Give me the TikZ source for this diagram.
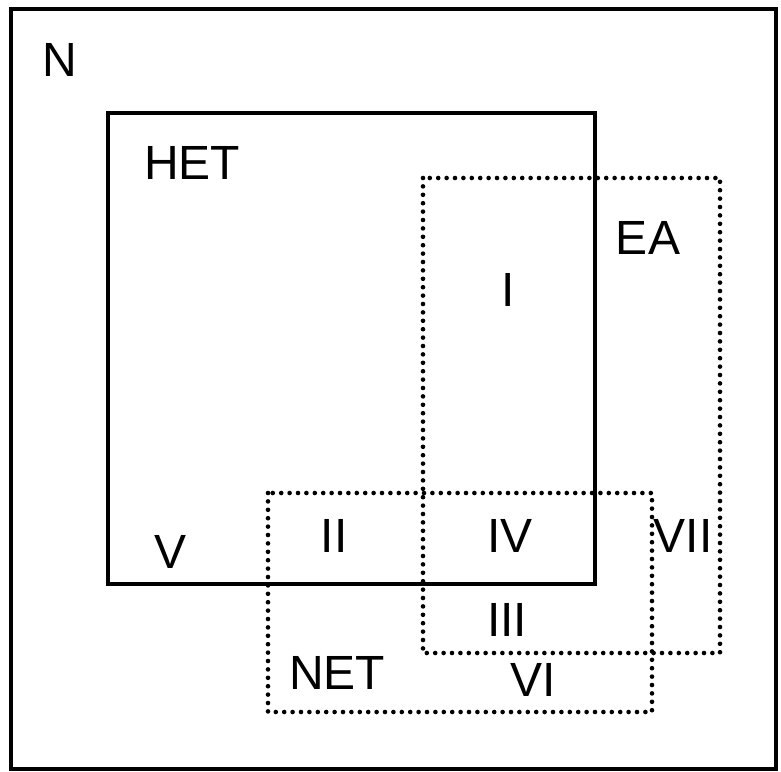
\documentclass[tikz,border=0pt]{standalone}
\usepackage{fontspec}
\setmainfont{Liberation Sans}
\usepackage{tikz}

\begin{document}
\begin{tikzpicture}[
  x=1pt, y=-1pt,
  solidset/.style={draw, line width=3.8pt},
  dotset/.style={draw, line width=4.6pt, line cap=round, dash pattern=on 0pt off 8.4pt},
  lbl/.style={inner sep=0pt, font=\fontsize{48}{56}\selectfont}
]
\useasboundingbox (0,0) rectangle (781,771);

% Universe N
\draw[line width=3.4pt] (11,9) rectangle (776,769);
\node[lbl] (n) at (60,60) {N};

% HET set
\draw[solidset] (108,113) rectangle (595,584);
\node[lbl] (het) at (192,163) {HET};

% EA set
\draw[dotset] (423,178) rectangle (720,653);
\node[lbl] (ea) at (648,238) {EA};

% NET set
\draw[dotset] (268,493) rectangle (652,712);
\node[lbl] (net) at (337,673) {NET};

% Regions
\node[lbl] (r1) at (508,290) {I};
\node[lbl] (r2) at (334,536) {II};
\node[lbl] (r3) at (507,620) {III};
\node[lbl] (r4) at (510,536) {IV};
\node[lbl] (r5) at (171,552) {V};
\node[lbl] (r6) at (533,680) {VI};
\node[lbl] (r7) at (683,536) {VII};

\end{tikzpicture}
\end{document}
